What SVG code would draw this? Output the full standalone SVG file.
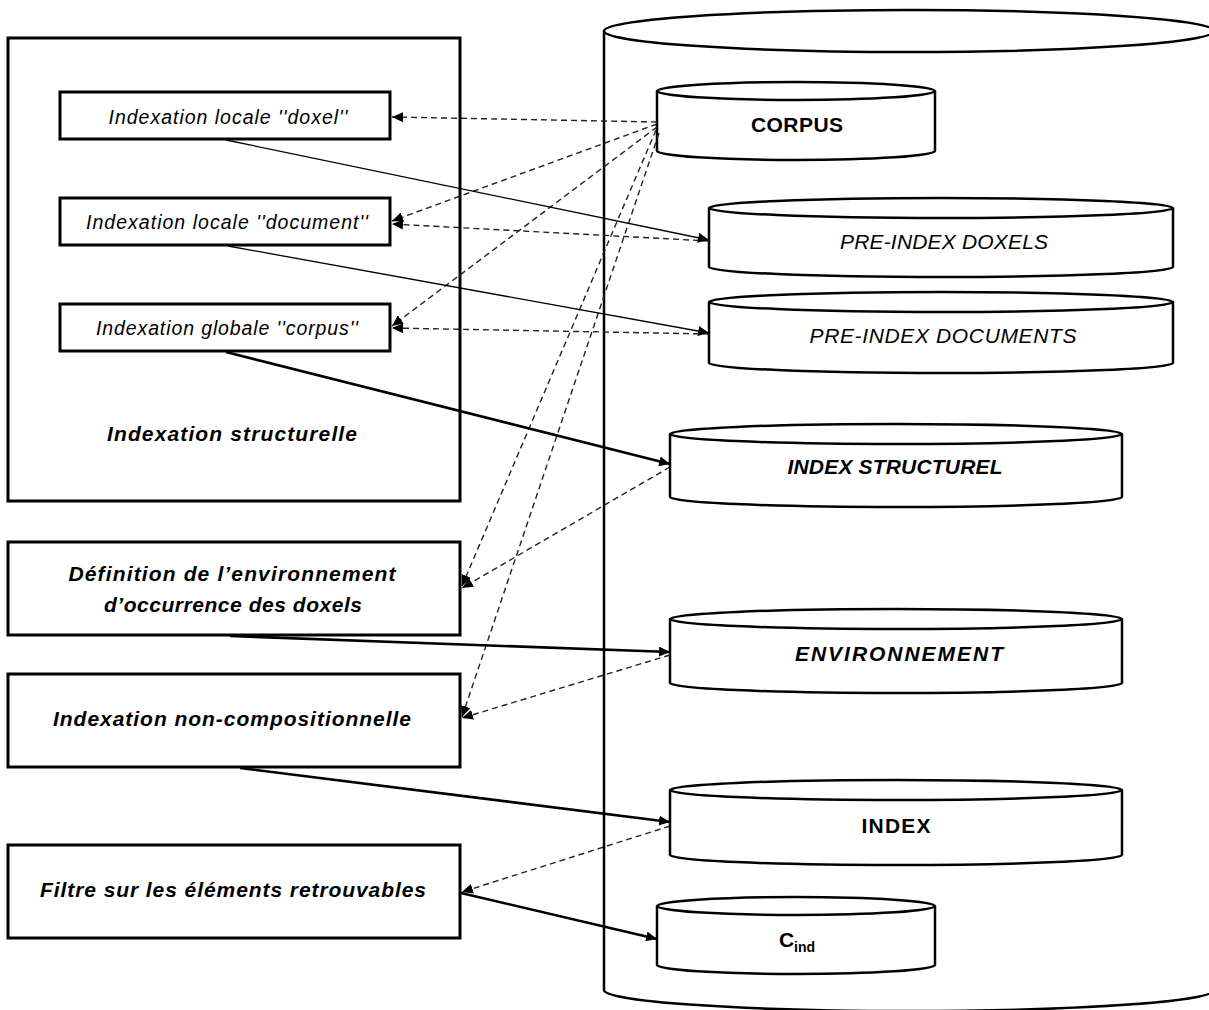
<svg xmlns="http://www.w3.org/2000/svg" width="1209" height="1010" viewBox="0 0 1209 1010">
<style>
.box{fill:#fff;stroke:#000;stroke-width:3}
.cyl{fill:#fff;stroke:#000;stroke-width:2.5}
.t{font-family:"Liberation Sans",Arial,sans-serif;fill:#000;text-anchor:middle}
.it{font-style:italic}
.b{font-weight:bold}
.thin{fill:none;stroke:#000;stroke-width:1.3}
.thick{fill:none;stroke:#000;stroke-width:2.6}
.dash{fill:none;stroke:#222;stroke-width:1.4;stroke-dasharray:6,4}
</style>
<defs>
<marker id="ah" markerUnits="userSpaceOnUse" markerWidth="12" markerHeight="10" refX="11" refY="5" orient="auto">
<path d="M0,0 L11,5 L0,10 z" fill="#000"/>
</marker>
</defs>
<rect width="1209" height="1010" fill="#fff"/>

<g id="outer-db">
<path class="cyl" d="M604,31 L604,990 A305,21 0 0 0 1214,990 L1214,31"/>
<ellipse class="cyl" cx="909" cy="31" rx="305" ry="21"/>
</g>

<g id="indexation-structurelle">
<rect class="box" x="8" y="38" width="452" height="463"/>
<text class="t it b" x="232" y="441" font-size="21" textLength="250" lengthAdjust="spacing">Indexation structurelle</text>
</g>
<g id="box-doxel">
<rect class="box" x="60" y="92" width="330" height="47"/>
<text class="t it" x="228" y="124" font-size="19.5" textLength="239" lengthAdjust="spacing">Indexation locale ''doxel''</text>
</g>
<g id="box-document">
<rect class="box" x="60" y="198" width="330" height="47"/>
<text class="t it" x="227" y="229" font-size="19.5" textLength="282" lengthAdjust="spacing">Indexation locale ''document''</text>
</g>
<g id="box-corpus">
<rect class="box" x="60" y="304" width="330" height="47"/>
<text class="t it" x="227" y="335" font-size="19.5" textLength="262" lengthAdjust="spacing">Indexation globale ''corpus''</text>
</g>
<g id="box-definition">
<rect class="box" x="8" y="542" width="452" height="93"/>
<text class="t it b" x="232" y="581" font-size="21" textLength="327" lengthAdjust="spacing">Définition de l’environnement</text>
<text class="t it b" x="233" y="612" font-size="21" textLength="258" lengthAdjust="spacing">d’occurrence des doxels</text>
</g>
<g id="box-noncomp">
<rect class="box" x="8" y="674" width="452" height="93"/>
<text class="t it b" x="232" y="726" font-size="21" textLength="358" lengthAdjust="spacing">Indexation non-compositionnelle</text>
</g>
<g id="box-filtre">
<rect class="box" x="8" y="845" width="452" height="93"/>
<text class="t it b" x="233" y="897" font-size="21" textLength="386" lengthAdjust="spacing">Filtre sur les éléments retrouvables</text>
</g>

<g id="cyl-corpus">
<path class="cyl" d="M657,91 L657,151 A139,9 0 0 0 935,151 L935,91"/>
<ellipse class="cyl" cx="796" cy="91" rx="139" ry="9"/>
<text class="t b" x="797" y="132" font-size="21" textLength="92" lengthAdjust="spacing">CORPUS</text>
</g>
<g id="cyl-preindex-doxels">
<path class="cyl" d="M709,208 L709,267 A232,10 0 0 0 1173,267 L1173,208"/>
<ellipse class="cyl" cx="941" cy="208" rx="232" ry="10"/>
<text class="t it" x="944" y="249" font-size="21" textLength="208" lengthAdjust="spacing">PRE-INDEX DOXELS</text>
</g>
<g id="cyl-preindex-documents">
<path class="cyl" d="M709,302 L709,363 A232,10 0 0 0 1173,363 L1173,302"/>
<ellipse class="cyl" cx="941" cy="302" rx="232" ry="10"/>
<text class="t it" x="943" y="343" font-size="21" textLength="267" lengthAdjust="spacing">PRE-INDEX DOCUMENTS</text>
</g>
<g id="cyl-index-structurel">
<path class="cyl" d="M670,434 L670,497 A226,10 0 0 0 1122,497 L1122,434"/>
<ellipse class="cyl" cx="896" cy="434" rx="226" ry="10"/>
<text class="t it b" x="895" y="474" font-size="21" textLength="215" lengthAdjust="spacing">INDEX STRUCTUREL</text>
</g>
<g id="cyl-environnement">
<path class="cyl" d="M670,619 L670,683 A226,10 0 0 0 1122,683 L1122,619"/>
<ellipse class="cyl" cx="896" cy="619" rx="226" ry="10"/>
<text class="t it b" x="899" y="661" font-size="21" textLength="208" lengthAdjust="spacing">ENVIRONNEMENT</text>
</g>
<g id="cyl-index">
<path class="cyl" d="M670,790 L670,855 A226,10 0 0 0 1122,855 L1122,790"/>
<ellipse class="cyl" cx="896" cy="790" rx="226" ry="10"/>
<text class="t b" x="896" y="833" font-size="21" textLength="69" lengthAdjust="spacing">INDEX</text>
</g>
<g id="cyl-cind">
<path class="cyl" d="M657,906 L657,965 A139,9 0 0 0 935,965 L935,906"/>
<ellipse class="cyl" cx="796" cy="906" rx="139" ry="9"/>
<text class="t b" x="797" y="947" font-size="21">C<tspan font-size="14" dy="5">ind</tspan></text>
</g>

<g id="connectors">
<line class="dash" x1="657" y1="122" x2="392" y2="117" marker-end="url(#ah)"/>
<line class="dash" x1="657" y1="124" x2="392" y2="221" marker-end="url(#ah)"/>
<line class="dash" x1="657" y1="127" x2="392" y2="326" marker-end="url(#ah)"/>
<line class="dash" x1="656" y1="130" x2="462" y2="586" marker-end="url(#ah)"/>
<line class="dash" x1="659" y1="133" x2="462" y2="717" marker-end="url(#ah)"/>
<line class="dash" x1="709" y1="241" x2="392" y2="224" marker-end="url(#ah)"/>
<line class="dash" x1="709" y1="334" x2="392" y2="328" marker-end="url(#ah)"/>
<line class="dash" x1="670" y1="467" x2="462" y2="588" marker-end="url(#ah)"/>
<line class="dash" x1="670" y1="655" x2="462" y2="718" marker-end="url(#ah)"/>
<line class="dash" x1="670" y1="826" x2="462" y2="892" marker-end="url(#ah)"/>
<line class="thin" x1="226" y1="140" x2="709" y2="240" marker-end="url(#ah)"/>
<line class="thin" x1="228" y1="246" x2="709" y2="333" marker-end="url(#ah)"/>
<line class="thick" x1="226" y1="352" x2="670" y2="464" marker-end="url(#ah)"/>
<line class="thick" x1="230" y1="636" x2="670" y2="652" marker-end="url(#ah)"/>
<line class="thick" x1="240" y1="768" x2="670" y2="822" marker-end="url(#ah)"/>
<line class="thick" x1="461" y1="893" x2="657" y2="939" marker-end="url(#ah)"/>
</g>
</svg>
